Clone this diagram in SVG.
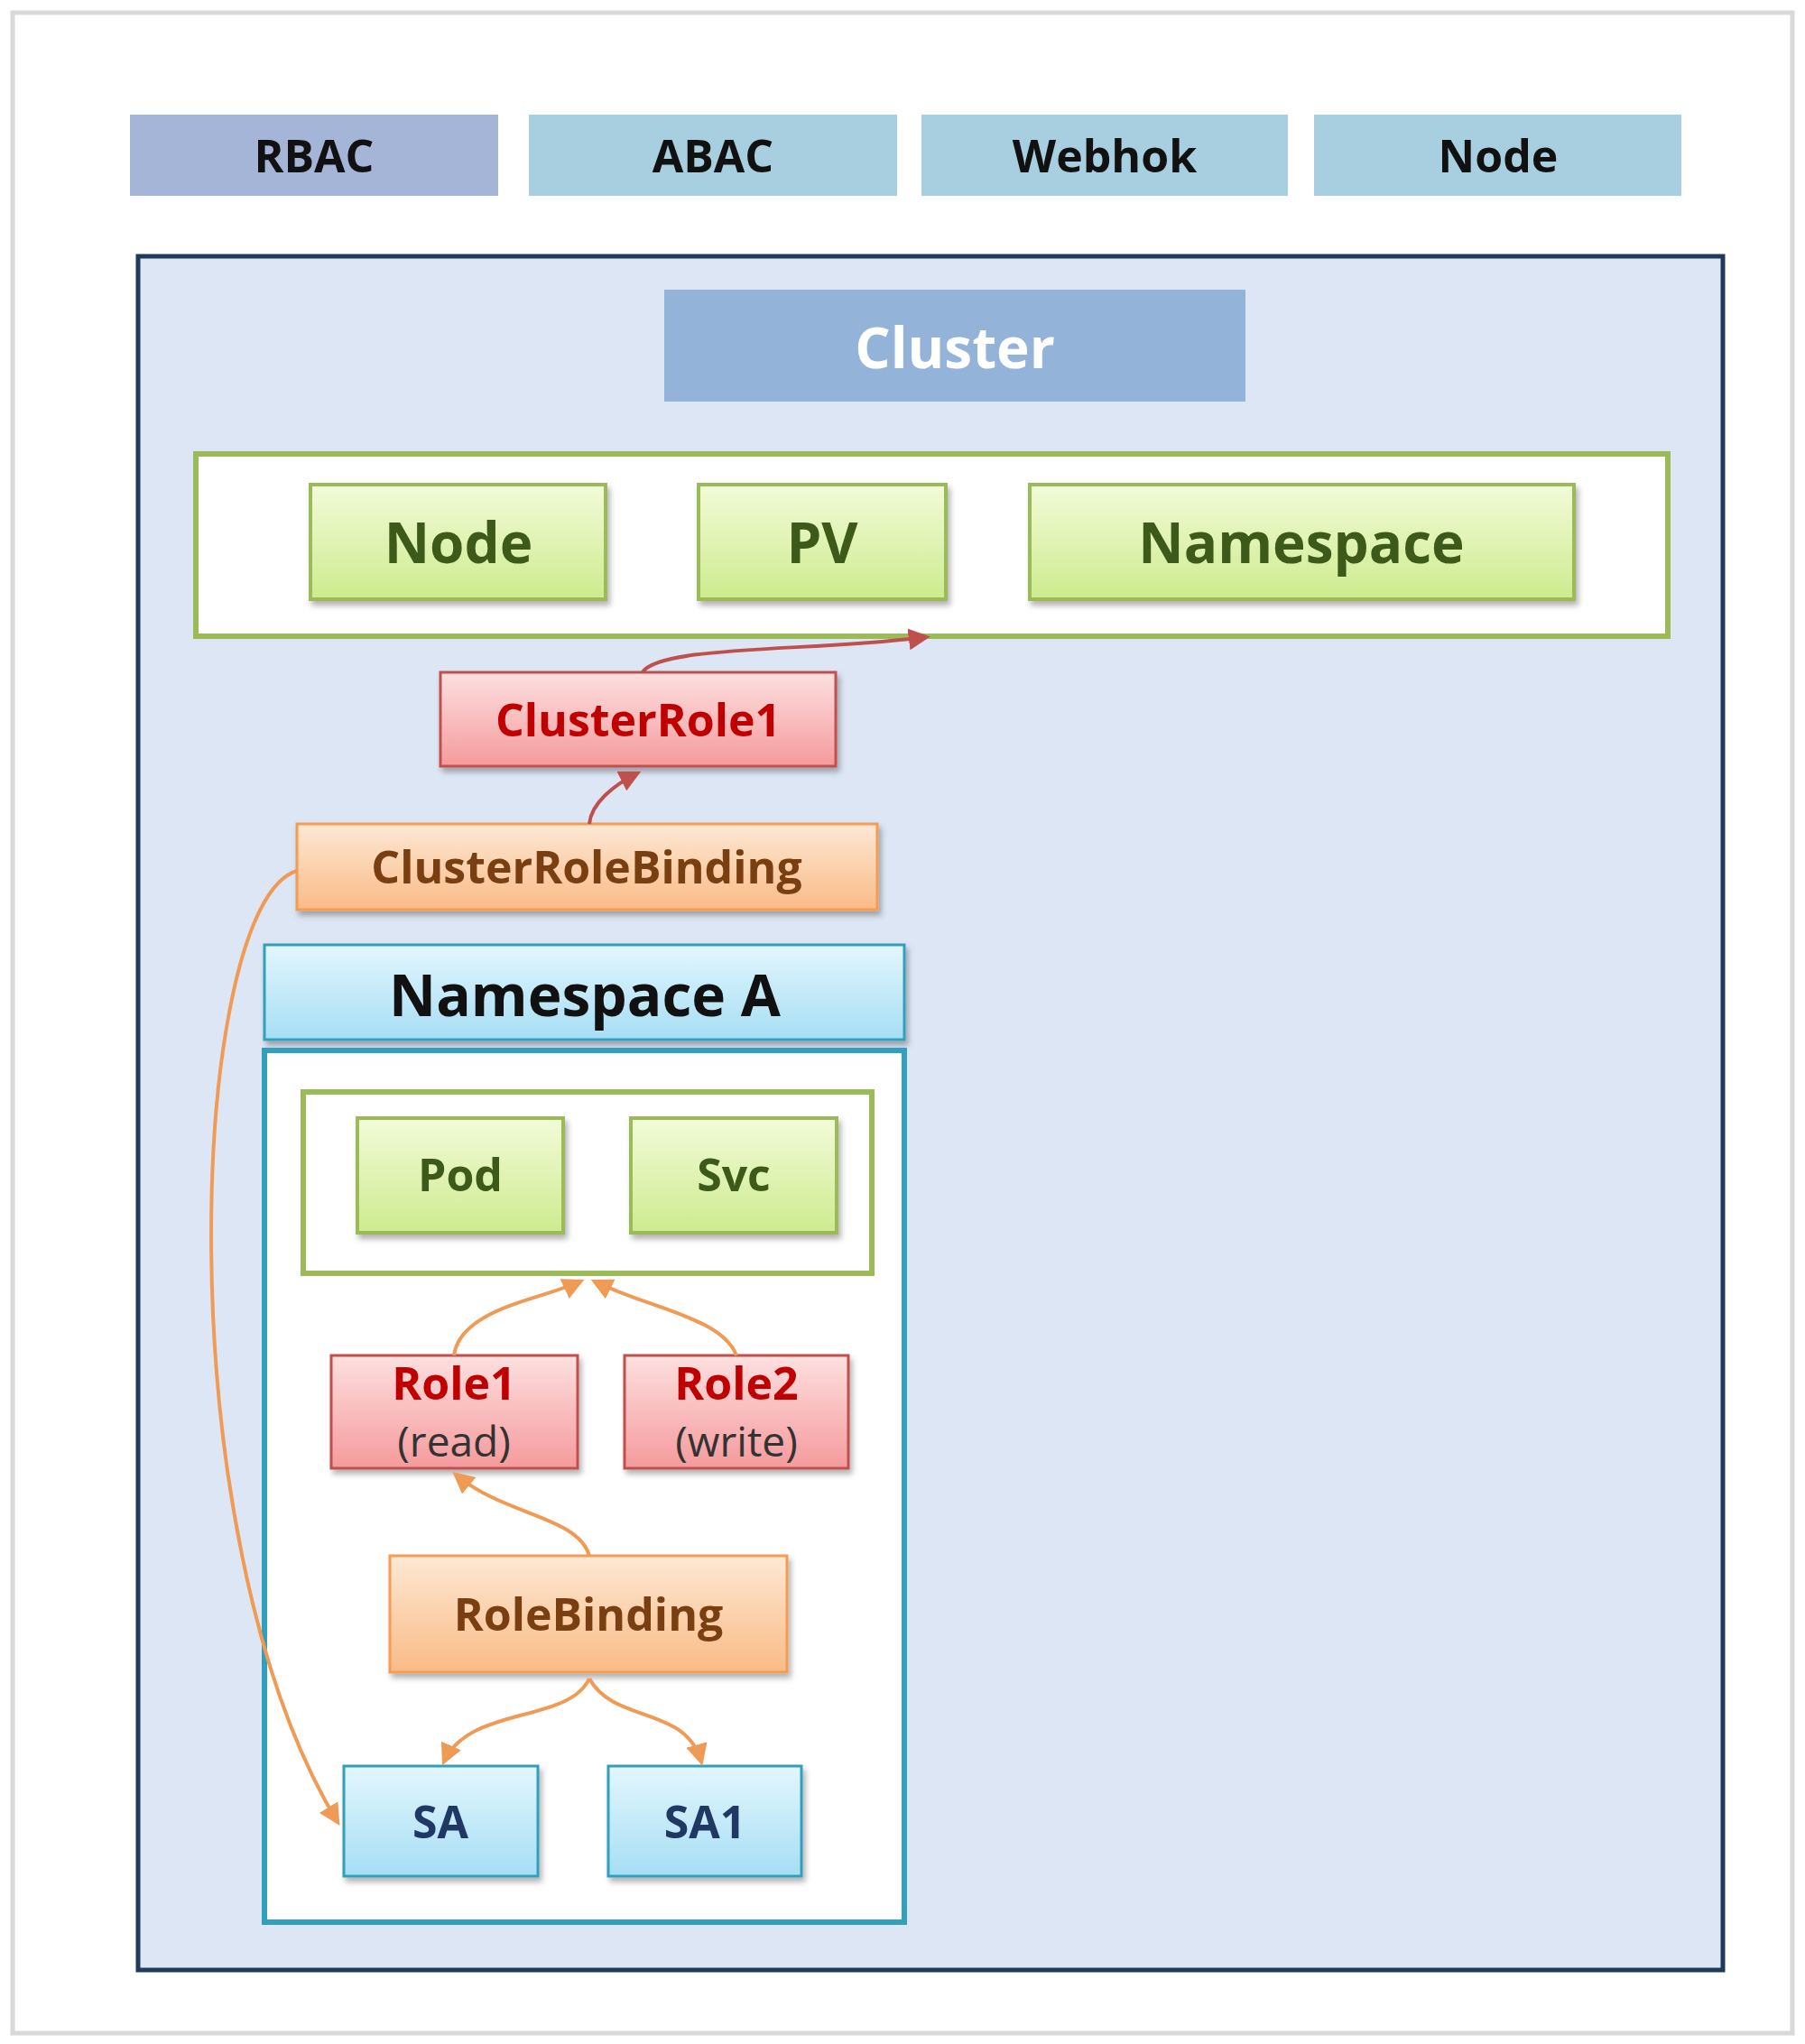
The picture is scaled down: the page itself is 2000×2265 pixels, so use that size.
<svg xmlns="http://www.w3.org/2000/svg" width="2000" height="2265" viewBox="0 0 2000 2265">
<defs>
<linearGradient id="gG" x1="0" y1="0" x2="0" y2="1"><stop offset="0" stop-color="#f2fbd9"/><stop offset="1" stop-color="#cdeb8e"/></linearGradient>
<linearGradient id="gR" x1="0" y1="0" x2="0" y2="1"><stop offset="0" stop-color="#fde0e0"/><stop offset="1" stop-color="#f59a9c"/></linearGradient>
<linearGradient id="gO" x1="0" y1="0" x2="0" y2="1"><stop offset="0" stop-color="#fde8d4"/><stop offset="1" stop-color="#f9bb86"/></linearGradient>
<linearGradient id="gB" x1="0" y1="0" x2="0" y2="1"><stop offset="0" stop-color="#e3f6fd"/><stop offset="1" stop-color="#a6def4"/></linearGradient>
<filter id="sh" x="-10%" y="-10%" width="120%" height="130%"><feDropShadow dx="3" dy="5" stdDeviation="3" flood-color="#000" flood-opacity="0.3"/></filter>
<marker id="aO" viewBox="0 0 10 10" refX="8" refY="5" markerWidth="6" markerHeight="6" orient="auto"><path d="M0,0L10,5L0,10z" fill="#ef9a55"/></marker>
<marker id="aR" viewBox="0 0 10 10" refX="8" refY="5" markerWidth="6" markerHeight="6" orient="auto"><path d="M0,0L10,5L0,10z" fill="#c0504d"/></marker>
</defs>
<style>
text{font-family:"Open Sans","DejaVu Sans",sans-serif;font-weight:bold;text-anchor:middle;dominant-baseline:central}
text.n{font-weight:normal;fill:#333}
.top{font-size:50px;fill:#111}
.g{fill:url(#gG);stroke:#9bbb59;stroke-width:4;filter:url(#sh)}
.r{fill:url(#gR);stroke:#c0504d;stroke-width:3;filter:url(#sh)}
.o{fill:url(#gO);stroke:#f39c55;stroke-width:3;filter:url(#sh)}
.b{fill:url(#gB);stroke:#31a0bd;stroke-width:3;filter:url(#sh)}
.gt{fill:#3d5a1a}
.rt{fill:#c00000}
.ot{fill:#7a3f10}
.bt{fill:#1f3864}
.co{fill:none;stroke:#ef9a55;stroke-width:4}
.cr{fill:none;stroke:#c0504d;stroke-width:4}
</style>
<rect width="2000" height="2265" fill="#fff"/>
<rect x="14" y="14" width="1972" height="2239" fill="#fff" stroke="#d9d9d9" stroke-width="5"/>
<g id="rbac"><rect x="144" y="127" width="408" height="90" fill="#a5b5d8"/><text x="348" y="172" class="top">RBAC</text></g>
<g id="abac"><rect x="586" y="127" width="408" height="90" fill="#a7cfe0"/><text x="790" y="172" class="top">ABAC</text></g>
<g id="webhok"><rect x="1021" y="127" width="406" height="90" fill="#a7cfe0"/><text x="1224" y="172" class="top">Webhok</text></g>
<g id="nodeTop"><rect x="1456" y="127" width="407" height="90" fill="#a7cfe0"/><text x="1660" y="172" class="top">Node</text></g>
<g id="clusterArea"><rect x="153" y="284" width="1756" height="1899" fill="#dde6f4" stroke="#1f3a5a" stroke-width="5"/></g>
<g id="cluster"><rect x="736" y="321" width="644" height="124" fill="#94b3d9"/><text x="1058" y="384" font-size="62" fill="#fff">Cluster</text></g>
<g id="clusterRes"><rect x="217" y="503" width="1631" height="202" fill="#fff" stroke="#9bbb59" stroke-width="6"/></g>
<g id="node"><rect x="344" y="537" width="327" height="127" class="g"/><text x="508" y="600" font-size="62" class="gt">Node</text></g>
<g id="pv"><rect x="774" y="537" width="274" height="127" class="g"/><text x="911" y="600" font-size="62" class="gt">PV</text></g>
<g id="namespace"><rect x="1141" y="537" width="603" height="127" class="g"/><text x="1442" y="600" font-size="62" class="gt">Namespace</text></g>
<g id="clusterRole1"><rect x="488" y="745" width="438" height="104" class="r"/><text x="707" y="797" font-size="50" class="rt">ClusterRole1</text></g>
<g id="clusterRoleBinding"><rect x="329" y="913" width="643" height="95" class="o"/><text x="650" y="960" font-size="50" class="ot">ClusterRoleBinding</text></g>
<g id="namespaceA"><rect x="293" y="1047" width="709" height="105" class="b"/><text x="648" y="1101" font-size="64" fill="#111">Namespace A</text>
<rect x="293" y="1164" width="709" height="966" fill="#fff" stroke="#31a0bd" stroke-width="6"/></g>
<g id="nsRes"><rect x="336" y="1210" width="630" height="201" fill="#fff" stroke="#9bbb59" stroke-width="6"/></g>
<g id="pod"><rect x="396" y="1239" width="228" height="127" class="g"/><text x="510" y="1301" font-size="50" class="gt">Pod</text></g>
<g id="svc"><rect x="699" y="1239" width="228" height="127" class="g"/><text x="813" y="1301" font-size="50" class="gt">Svc</text></g>
<g id="role1"><rect x="367" y="1502" width="273" height="125" class="r"/><text x="503" y="1532" font-size="50" class="rt">Role1</text><text x="503" y="1596" font-size="46" class="n">(read)</text></g>
<g id="role2"><rect x="692" y="1502" width="248" height="125" class="r"/><text x="816" y="1532" font-size="50" class="rt">Role2</text><text x="816" y="1596" font-size="46" class="n">(write)</text></g>
<g id="roleBinding"><rect x="432" y="1724" width="440" height="129" class="o"/><text x="652" y="1788" font-size="50" class="ot">RoleBinding</text></g>
<g id="sa"><rect x="381" y="1957" width="215" height="122" class="b"/><text x="488" y="2018" font-size="50" class="bt">SA</text></g>
<g id="sa1"><rect x="674" y="1957" width="214" height="122" class="b"/><text x="781" y="2018" font-size="50" class="bt">SA1</text></g>
<g id="connectors">
<path d="M712,745 C730,715 900,722 1026,706" class="cr" marker-end="url(#aR)"/>
<path d="M653,913 C655,890 680,870 706,857" class="cr" marker-end="url(#aR)"/>
<path d="M329,965 C210,1000 180,1700 374,2019" class="co" marker-end="url(#aO)"/>
<path d="M503,1502 C510,1450 600,1440 643,1420" class="co" marker-end="url(#aO)"/>
<path d="M816,1502 C800,1460 720,1450 659,1420" class="co" marker-end="url(#aO)"/>
<path d="M653,1724 C640,1680 560,1680 505,1634" class="co" marker-end="url(#aO)"/>
<path d="M653,1860 C630,1910 520,1890 492,1952" class="co" marker-end="url(#aO)"/>
<path d="M653,1860 C680,1910 760,1890 777,1952" class="co" marker-end="url(#aO)"/>
</g>
</svg>
